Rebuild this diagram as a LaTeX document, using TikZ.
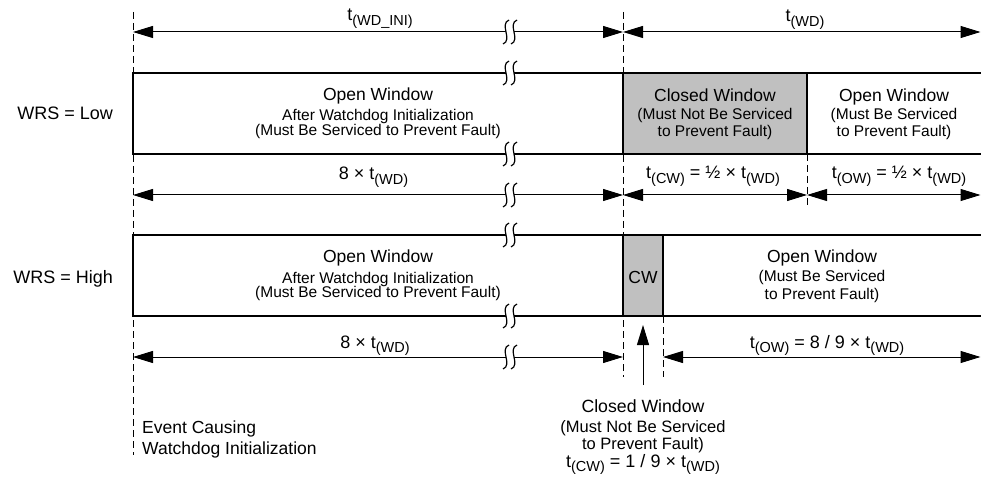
\documentclass[tikz,border=0pt]{standalone}
\usepackage{fontspec}
\setmainfont{Liberation Sans}
\usetikzlibrary{arrows.meta}
\definecolor{cwgray}{RGB}{192,192,192}
\newcommand{\tw}[1]{t\raisebox{-4.5pt}{\fontsize{14.5}{15}\selectfont(#1)}}
\newcommand{\wtitle}[1]{{\fontsize{17.5}{18}\selectfont #1}}

\tikzset{
  brk/.pic={
    \fill[white] (-1,-12) .. controls (-11,-8) and (3,8) .. (-7,12) -- (1,12) .. controls (11,8) and (-3,-8) .. (7,-12) -- cycle;
    \draw[line width=1.2pt] (-1,-12) .. controls (-11,-8) and (3,8) .. (-7,12);
    \draw[line width=1.2pt] (7,-12) .. controls (-3,-8) and (11,8) .. (1,12);
  }
}

\begin{document}
\begin{tikzpicture}[x=1pt,y=-1pt,
  >={Triangle[length=20pt,width=12pt]},
  box/.style={line width=1.8pt},
  guide/.style={line width=0.8pt,dash pattern=on 7pt off 4pt},
  span/.style={line width=1pt,<->},
  lbl/.style={inner sep=0pt,anchor=base,font=\fontsize{18}{20}\selectfont},
  wintext/.style={inner sep=0pt,align=center,anchor=north}]
\useasboundingbox (0,0) rectangle (981,478);
% dashed time marks
\draw[guide] (133,12) -- (133,455);
\draw[guide] (623,12) -- (623,377);
\draw[guide] (807,154) -- (807,206);
\draw[guide] (663,316) -- (663,377);
% WRS = Low
\fill[white] (133,73) rectangle (981,154);
\filldraw[box,fill=cwgray] (623,73) rectangle (807,154);
\draw[box] (981,73) -- (133,73) -- (133,154) -- (981,154);
% WRS = High
\fill[white] (133,235) rectangle (981,316);
\filldraw[box,fill=cwgray] (623,235) rectangle (663,316);
\draw[box] (981,235) -- (133,235) -- (133,316) -- (981,316);
% time spans
\draw[span] (133,32) -- (623,32);
\draw[span] (623,32) -- (980.5,32);
\draw[span] (133,195) -- (623,195);
\draw[span] (623,195) -- (807,195);
\draw[span] (807,195) -- (980.5,195);
\draw[span] (133,357) -- (623,357);
\draw[span] (663,357) -- (980.5,357);
% breaks
\foreach \y in {32,73,154,195,235,316,357}
  \pic at (510,\y) {brk};

\node[lbl] (tini) at (380,21) {\tw{WD\_INI}};
\node[lbl] (twd) at (805,22) {\tw{WD}};
\node[lbl] (nlow) at (373.5,180) {8 × \tw{WD}};
\node[lbl] (tcw) at (713,179) {\tw{CW} = ½ × \tw{WD}};
\node[lbl] (tow) at (899,179) {\tw{OW} = ½ × \tw{WD}};
\node[lbl] (nhigh) at (375,348) {8 × \tw{WD}};
\node[lbl] (towh) at (827,348) {\tw{OW} = 8 / 9 × \tw{WD}};

\node[inner sep=0pt,anchor=base east,font=\fontsize{18}{20}\selectfont] (wrsl) at (113,119.5) {WRS = Low};
\node[inner sep=0pt,anchor=base east,font=\fontsize{18}{20}\selectfont] (wrsh) at (113,283.5) {WRS = High};

\node[wintext,font=\fontsize{15.5}{14.7}\selectfont] (owl) at (378,87.3)
  {\wtitle{Open Window}\\[4.8pt]After Watchdog Initialization\\(Must Be Serviced to Prevent Fault)};
\node[wintext,font=\fontsize{15.5}{16.7}\selectfont] (cwl) at (715,88.3)
  {\wtitle{Closed Window}\\[1.6pt](Must Not Be Serviced\\to Prevent Fault)};
\node[wintext,font=\fontsize{15.5}{16.7}\selectfont] (owr) at (894,88.3)
  {\wtitle{Open Window}\\[1.6pt](Must Be Serviced\\to Prevent Fault)};
\node[wintext,font=\fontsize{15.5}{14.7}\selectfont] (owh) at (378,249.5)
  {\wtitle{Open Window}\\[4.8pt]After Watchdog Initialization\\(Must Be Serviced to Prevent Fault)};
\node[inner sep=0pt,font=\fontsize{17.5}{18}\selectfont] (cwh) at (643,277) {CW};
\node[wintext,font=\fontsize{15.5}{18}\selectfont] (owhr) at (822,250)
  {\wtitle{Open Window}\\[0.5pt](Must Be Serviced\\to Prevent Fault)};

\node[wintext,font=\fontsize{16.5}{17.5}\selectfont] (cwnote) at (643,399)
  {{\fontsize{17.7}{18}\selectfont Closed Window}\\[2.5pt](Must Not Be Serviced\\to Prevent Fault)\\{\fontsize{18}{18}\selectfont\tw{CW} = 1 / 9 × \tw{WD}}};
\draw[line width=1pt,->] ([yshift=14pt]cwnote.north) -- (643,325);

\node[inner sep=0pt,align=left,anchor=north west,font=\fontsize{17.5}{21}\selectfont] (evt) at (142,420.7)
  {Event Causing\\Watchdog Initialization};
\end{tikzpicture}
\end{document}
